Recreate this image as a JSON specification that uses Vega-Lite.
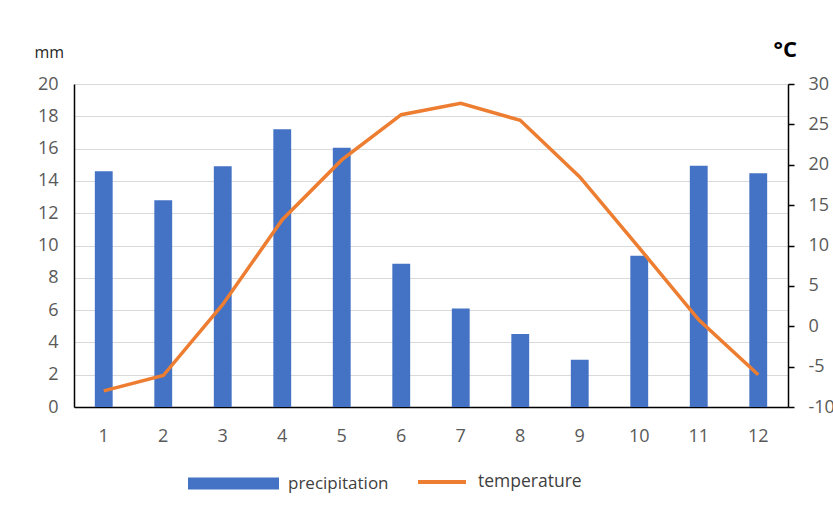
{
  "$schema": "https://vega.github.io/schema/vega-lite/v6.json",
  "width": 714,
  "height": 323,
  "autosize": "none",
  "padding": {"left": 74, "top": 84, "right": 45, "bottom": 99},
  "background": "white",
  "config": {
    "font": "Open Sans",
    "view": {"stroke": null},
    "legend": {"padding": 0}
  },
  "data": {
    "values": [
      {"month": 1, "precipitation": 14.6, "temperature": -8.0},
      {"month": 2, "precipitation": 12.8, "temperature": -6.1},
      {"month": 3, "precipitation": 14.9, "temperature": 2.7},
      {"month": 4, "precipitation": 17.2, "temperature": 13.2},
      {"month": 5, "precipitation": 16.05, "temperature": 20.6},
      {"month": 6, "precipitation": 8.87, "temperature": 26.2},
      {"month": 7, "precipitation": 6.1, "temperature": 27.6},
      {"month": 8, "precipitation": 4.52, "temperature": 25.5},
      {"month": 9, "precipitation": 2.92, "temperature": 18.5},
      {"month": 10, "precipitation": 9.37, "temperature": 9.7},
      {"month": 11, "precipitation": 14.94, "temperature": 0.8},
      {"month": 12, "precipitation": 14.47, "temperature": -6.0}
    ]
  },
  "layer": [
    {
      "mark": {"type": "bar"},
      "encoding": {
        "x": {
          "field": "month",
          "type": "ordinal",
          "scale": {"paddingInner": 0.7, "paddingOuter": 0.35},
          "axis": {
            "title": null,
            "labelAngle": 0,
            "ticks": false,
            "tickSize": 0,
            "labelPadding": 20,
            "labelFontSize": 18,
            "labelColor": "#595959",
            "domainColor": "#000000",
            "domainWidth": 1.5,
            "grid": false
          }
        },
        "y": {
          "field": "precipitation",
          "type": "quantitative",
          "scale": {"domain": [0, 20], "nice": false},
          "axis": {
            "orient": "left",
            "values": [0, 2, 4, 6, 8, 10, 12, 14, 16, 18, 20],
            "ticks": false,
            "tickSize": 0,
            "labelPadding": 16,
            "labelFontSize": 18,
            "labelColor": "#595959",
            "domainColor": "#000000",
            "domainWidth": 1.5,
            "grid": true,
            "gridColor": "#D9D9D9",
            "gridWidth": 1,
            "title": "mm",
            "titleAngle": 0,
            "titleAlign": "left",
            "titleBaseline": "alphabetic",
            "titleX": -40,
            "titleY": -27,
            "titleFontSize": 16,
            "titleFontWeight": "normal",
            "titleColor": "#262626"
          }
        },
        "fill": {
          "datum": "precipitation",
          "scale": {"domain": ["precipitation"], "range": ["#4472C4"]},
          "legend": {
            "title": null,
            "orient": "none",
            "legendX": 114,
            "legendY": 354,
            "symbolType": "M-1,-0.132H1V0.132H-1Z",
            "symbolSize": 8281,
            "symbolStrokeWidth": 0,
            "labelFontSize": 17,
            "labelColor": "#404040",
            "labelOffset": 9
          }
        }
      }
    },
    {
      "mark": {"type": "line", "strokeWidth": 3.5},
      "encoding": {
        "x": {"field": "month", "type": "ordinal"},
        "y": {
          "field": "temperature",
          "type": "quantitative",
          "scale": {"domain": [-10, 30], "nice": false},
          "axis": {
            "orient": "right",
            "values": [-10, -5, 0, 5, 10, 15, 20, 25, 30],
            "labelExpr": "'' + datum.value",
            "ticks": true,
            "tickSize": 6,
            "tickColor": "#000000",
            "tickWidth": 1.5,
            "labelPadding": 14,
            "labelFontSize": 18,
            "labelColor": "#595959",
            "domainColor": "#000000",
            "domainWidth": 1.5,
            "grid": false,
            "title": "°C",
            "titleAngle": 0,
            "titleAlign": "left",
            "titleBaseline": "alphabetic",
            "titleX": -15,
            "titleY": -28,
            "titleFontSize": 22,
            "titleFontWeight": "bold",
            "titleColor": "#000000"
          }
        },
        "stroke": {
          "datum": "temperature",
          "scale": {"domain": ["temperature"], "range": ["#ED7D31"]},
          "legend": {
            "title": null,
            "orient": "none",
            "legendX": 342,
            "legendY": 372,
            "symbolType": "stroke",
            "symbolSize": 2304,
            "symbolStrokeWidth": 4,
            "labelFontSize": 17.5,
            "labelColor": "#404040",
            "labelOffset": 10
          }
        }
      }
    }
  ],
  "resolve": {"scale": {"y": "independent"}}
}
